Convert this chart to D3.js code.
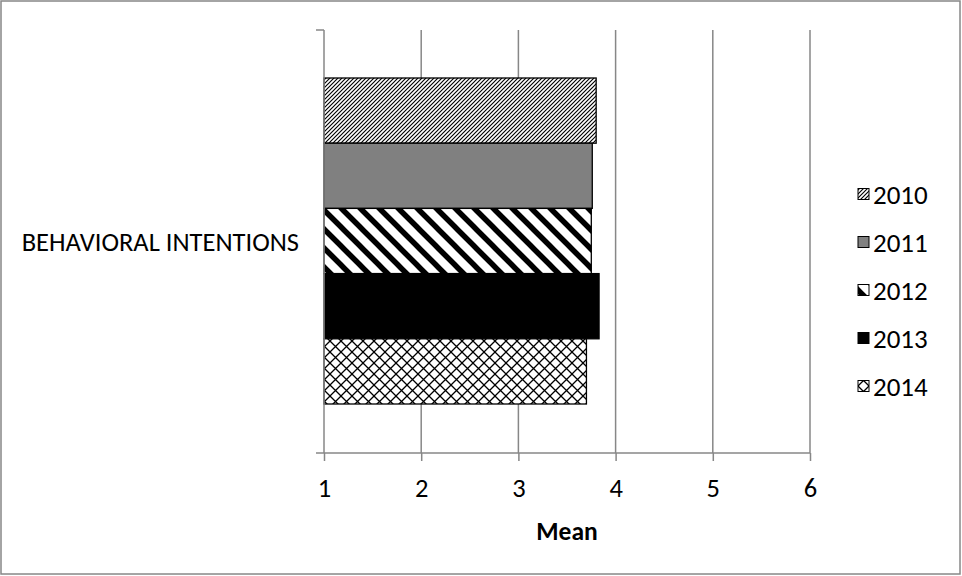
<!DOCTYPE html>
<html><head><meta charset="utf-8">
<script src="https://cdn.jsdelivr.net/npm/d3@7"></script>
<style>body{margin:0;background:#fff;}svg{display:block;}</style>
</head><body>
<script>
const categories = ["BEHAVIORAL INTENTIONS"];
const years = ["2010","2011","2012","2013","2014"];
const values = [3.80, 3.76, 3.75, 3.83, 3.70];
const xTicks = [1,2,3,4,5,6];
const axisTitle = "Mean";

(function(){
const W = 962, H = 576;
const svg = d3.select("body").append("svg").attr("width", W).attr("height", H);
const font = "Carlito, Calibri, Lato, 'Open Sans', sans-serif";
const gridCol = "#878787";

const defs = svg.append("defs");
const p1 = defs.append("pattern").attr("id","p2010").attr("patternUnits","userSpaceOnUse").attr("width",4).attr("height",4);
p1.append("rect").attr("width",4).attr("height",4).attr("fill","#fff");
p1.append("path").attr("d","M-1,1 L1,-1 M0,4 L4,0 M3,5 L5,3").attr("stroke","#000").attr("stroke-width",1.15);

const p3 = defs.append("pattern").attr("id","p2012").attr("patternUnits","userSpaceOnUse").attr("width",19).attr("height",19);
p3.append("rect").attr("width",19).attr("height",19).attr("fill","#fff");
p3.append("path").attr("d","M-5,-5 L24,24 M-5,14 L5,24 M14,-5 L24,5").attr("stroke","#000").attr("stroke-width",5.5);

const p5 = defs.append("pattern").attr("id","p2014").attr("patternUnits","userSpaceOnUse").attr("width",11).attr("height",11);
p5.append("rect").attr("width",11).attr("height",11).attr("fill","#fff");
p5.append("path").attr("d","M0,0 L11,11 M11,0 L0,11").attr("stroke","#000").attr("stroke-width",1.3);

const fills = ["url(#p2010)","#808080","url(#p2012)","#000","url(#p2014)"];

svg.append("rect").attr("x",1).attr("y",1).attr("width",W-3).attr("height",H-3)
  .attr("fill","none").attr("stroke",gridCol).attr("stroke-width",1.5);

const pl = 324, pr = 810, pt = 30, pb = 453;
const x = d3.scaleLinear().domain([1,6]).range([pl,pr]);
const y = d3.scaleBand().domain(categories).range([pt,pb]);
const ySub = d3.scaleBand().domain(years).range([78, 404]);

svg.append("g").selectAll("line").data(xTicks.slice(1)).join("line")
  .attr("x1",d=>x(d)).attr("x2",d=>x(d)).attr("y1",pt).attr("y2",pb)
  .attr("stroke",gridCol).attr("stroke-width",1.5);

svg.append("g").selectAll("rect").data(values).join("rect")
  .attr("x",x(1)).attr("y",(d,i)=>ySub(years[i]))
  .attr("width",d=>x(d)-x(1)).attr("height",ySub.bandwidth())
  .attr("fill",(d,i)=>fills[i]).attr("stroke","#000").attr("stroke-width",1.3);

const xAxis = svg.append("g").attr("transform",`translate(0,${pb})`)
  .call(d3.axisBottom(x).tickValues(xTicks).tickSize(8).tickPadding(17).tickFormat(d3.format("d")));
xAxis.select(".domain").remove();
xAxis.selectAll(".tick line").attr("stroke",gridCol).attr("stroke-width",1.5);
xAxis.selectAll(".tick text").attr("font-family",font).attr("font-size",26.5).attr("fill","#000");
svg.append("line").attr("x1",316).attr("x2",pr).attr("y1",pb).attr("y2",pb)
  .attr("stroke",gridCol).attr("stroke-width",1.5);

svg.append("line").attr("x1",pl).attr("x2",pl).attr("y1",pt).attr("y2",pb)
  .attr("stroke",gridCol).attr("stroke-width",1.5);
svg.append("line").attr("x1",316).attr("x2",pl).attr("y1",pt).attr("y2",pt)
  .attr("stroke",gridCol).attr("stroke-width",1.5);

svg.append("g").selectAll("text").data(categories).join("text")
  .attr("x",299).attr("y",d=>y(d)+y.bandwidth()/2).attr("dy","0.36em")
  .attr("text-anchor","end").attr("font-family",font).attr("font-size",26.5).attr("fill","#000").text(d=>d);

svg.append("text").attr("x",(pl+pr)/2).attr("y",531).attr("dy","0.36em").attr("text-anchor","middle")
  .attr("font-family",font).attr("font-size",25.5).attr("font-weight","bold").text(axisTitle);

const lg = svg.append("g").selectAll("g").data(years).join("g")
  .attr("transform",(d,i)=>`translate(858,${194 + i*48})`);
lg.append("rect").attr("x",0).attr("y",-5.5).attr("width",11).attr("height",11)
  .attr("fill",(d,i)=>fills[i]).attr("stroke","#000").attr("stroke-width",1);
lg.append("text").attr("x",15).attr("y",0).attr("dy","0.36em").attr("font-family",font)
  .attr("font-size",27).attr("fill","#000").text(d=>d);
})();
</script>
</body></html>
